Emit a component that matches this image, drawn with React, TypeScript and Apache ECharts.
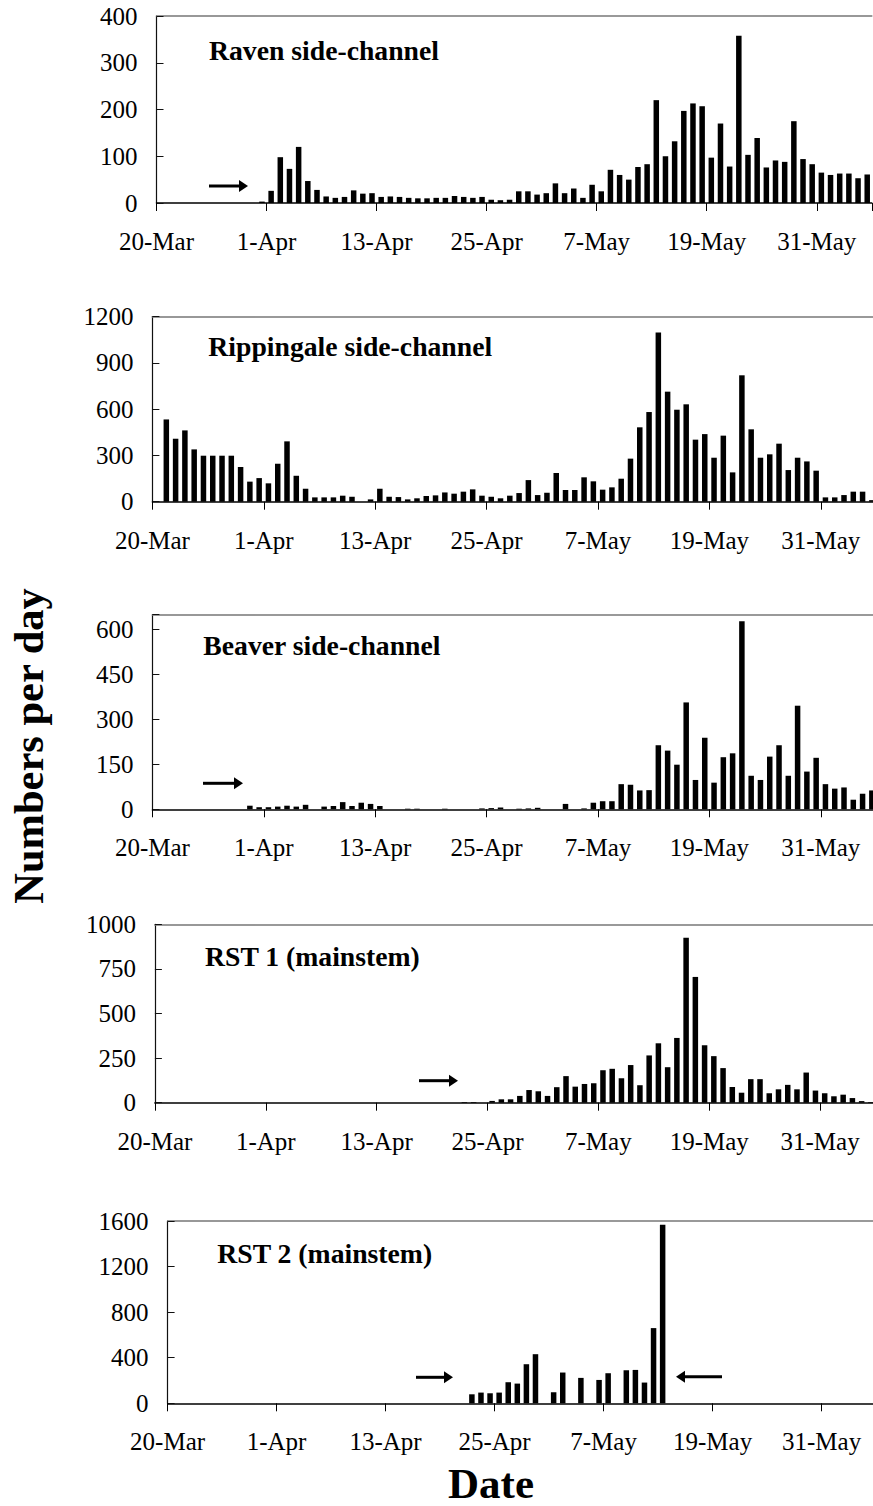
import React, { useEffect, useRef } from 'react';
import * as echarts from 'echarts';

// ---- data (day index 0 = 20-Mar, one value per day; null = no sample) ----
const dayCount = 78;
const tickStep = 12;
const tickLabels = ['20-Mar', '1-Apr', '13-Apr', '25-Apr', '7-May', '19-May', '31-May'];

const panelNames = ['Raven side-channel', 'Rippingale side-channel', 'Beaver side-channel', 'RST 1 (mainstem)', 'RST 2 (mainstem)'];
const yMax = [400, 1200, 650, 1000, 1600];
const yStep = [100, 300, 150, 250, 400];

const N = null;
const raven = [
  N, N, N, N, N, N, N, N, N, N, N, 3,
  26, 98, 73, 120, 47, 28, 14, 11, 13, 27, 20, 21,
  13, 14, 13, 11, 10, 10, 11, 11, 15, 13, 11, 13,
  7, 6, 7, 25, 25, 18, 21, 42, 21, 31, 11, 39,
  25, 71, 60, 50, 77, 83, 220, 100, 132, 197, 213, 207,
  97, 170, 78, 358, 103, 139, 76, 91, 88, 175, 94, 83,
  65, 60, 63, 63, 53, 61,
];
const rippingale = [
  N, 533, 408, 462, 339, 298, 298, 298, 298, 225, 130, 153,
  119, 246, 391, 168, 84, 28, 28, 28, 39, 32, N, 15,
  84, 32, 30, 15, 22, 37, 41, 60, 52, 65, 80, 39,
  32, 22, 39, 56, 140, 43, 58, 186, 76, 76, 158, 132,
  78, 93, 149, 279, 482, 581, 1097, 713, 596, 631, 402, 438,
  285, 428, 190, 819, 469, 285, 307, 376, 205, 285, 261, 201,
  28, 28, 43, 65, 65, 10,
];
const beaver = [
  N, N, N, N, N, N, N, N, N, N, 12, 7,
  7, 9, 12, 9, 15, N, 9, 11, 24, 11, 22, 18,
  11, N, N, 2, 2, N, N, 2, N, N, N, 3,
  4, 6, N, 2, 3, 5, N, N, 18, N, 3, 22,
  27, 27, 84, 82, 63, 64, 214, 196, 149, 357, 98, 239,
  89, 174, 187, 628, 112, 98, 176, 214, 112, 346, 126, 172,
  84, 69, 73, 32, 52, 63,
];
const rst1 = [
  N, N, N, N, N, N, N, N, N, N, N, N,
  N, N, N, N, N, N, N, N, N, N, N, N,
  N, N, N, N, N, N, N, N, N, 4, 4, N,
  10, 19, 19, 38, 71, 64, 38, 87, 149, 90, 105, 109,
  182, 190, 137, 211, 98, 265, 333, 199, 363, 924, 705, 322,
  261, 194, 88, 56, 132, 132, 53, 75, 100, 75, 169, 68,
  53, 36, 45, 26, 9, 4,
];
const rst2 = [
  N, N, N, N, N, N, N, N, N, N, N, N,
  N, N, N, N, N, N, N, N, N, N, N, N,
  N, N, N, N, N, N, N, N, N, 79, 94, 88,
  94, 185, 173, 343, 431, N, 97, 270, N, 223, N, 205,
  264, N, 290, 293, 182, 660, 1566, N, N, N, N, N,
  N, N, N, N, N, N, N, N, N, N, N, N,
  N, N, N, N, N, N,
];
const panelData = [raven, rippingale, beaver, rst1, rst2];

// ---- layout (pixels) ----
const grids = [
  { left: 156.5, width: 715.3, top: 16, height: 187 },
  { left: 152.4, width: 724.1, top: 316.5, height: 185.2 },
  { left: 152.4, width: 724.1, top: 614.7, height: 194.6 },
  { left: 154.9, width: 720.6, top: 924.3, height: 178.4 },
  { left: 167.6, width: 708.5, top: 1221, height: 182.3 },
];
const titlePos = [
  { x: 209, y: 50.8 },
  { x: 208.3, y: 346.7 },
  { x: 203.3, y: 645.2 },
  { x: 205, y: 956.2 },
  { x: 217.3, y: 1253.3 },
];
const arrows = [
  { tail: 209, tip: 248, y: 186 },
  { tail: 203, tip: 243, y: 783.3 },
  { tail: 419, tip: 458, y: 1080.7 },
  { tail: 416, tip: 453, y: 1377.3 },
  { tail: 722, tip: 676, y: 1376.7 },
];

const FONT = '"Liberation Serif", "Times New Roman", serif';

function arrowGraphic(a: { tail: number; tip: number; y: number }) {
  const dir = a.tip > a.tail ? 1 : -1;
  const headLen = 9;
  const headHalf = 6;
  const base = a.tip - dir * headLen;
  return {
    type: 'group',
    children: [
      {
        type: 'line',
        shape: { x1: a.tail, y1: a.y, x2: base + dir * 1, y2: a.y },
        style: { stroke: '#000', lineWidth: 3 },
      },
      {
        type: 'polygon',
        shape: { points: [[a.tip, a.y], [base, a.y - headHalf], [base, a.y + headHalf]] },
        style: { fill: '#000' },
      },
    ],
  };
}

export default function App() {
  const ref = useRef<HTMLDivElement>(null);
  useEffect(() => {
    if (!ref.current) return;
    const chart = echarts.init(ref.current, undefined, { renderer: 'svg' });

    const xAxes: any[] = [];
    const topAxes: any[] = [];
    const yAxes: any[] = [];
    const series: any[] = [];
    grids.forEach((g, p) => {
      xAxes.push({
        type: 'value',
        gridIndex: p,
        min: 0,
        max: dayCount,
        interval: tickStep,
        axisLine: { show: true, onZero: false, lineStyle: { color: '#000', width: 1.5 } },
        axisTick: { show: true, inside: false, length: 8, lineStyle: { color: '#000', width: 1 } },
        axisLabel: {
          show: true,
          margin: 26,
          fontFamily: FONT,
          fontSize: 25,
          color: '#000',
          formatter: (v: number) => {
            const k = Math.round(v / tickStep);
            return Math.abs(v - k * tickStep) < 1e-6 && k < tickLabels.length ? tickLabels[k] : '';
          },
        },
        splitLine: { show: false },
      });
      topAxes.push({
        type: 'value',
        gridIndex: p,
        position: 'top',
        min: 0,
        max: dayCount,
        axisLine: { show: true, onZero: false, lineStyle: { color: '#777', width: 1.5 } },
        axisTick: { show: false },
        axisLabel: { show: false },
        splitLine: { show: false },
      });
      yAxes.push({
        type: 'value',
        gridIndex: p,
        min: 0,
        max: yMax[p],
        interval: yStep[p],
        axisLine: { show: true, lineStyle: { color: '#111', width: 1.2 } },
        axisTick: { show: true, inside: true, length: 7, lineStyle: { color: '#111' } },
        axisLabel: {
          margin: 19,
          fontFamily: FONT,
          fontSize: 25,
          color: '#000',
          formatter: (v: number) => (v % yStep[p] === 0 ? String(v) : ''),
        },
        splitLine: { show: false },
      });
      series.push({
        type: 'bar',
        xAxisIndex: p,
        yAxisIndex: p,
        barWidth: 5.5,
        itemStyle: { color: '#000' },
        data: panelData[p]
          .map((v, i) => (v === null ? null : [i + 0.5, v]))
          .filter((d) => d !== null),
      });
    });

    const graphic: any[] = [];
    panelNames.forEach((name, p) => {
      graphic.push({
        type: 'text',
        x: titlePos[p].x,
        y: titlePos[p].y,
        style: {
          text: name,
          font: `bold 27.7px ${FONT}`,
          fill: '#000',
          align: 'left',
          verticalAlign: 'middle',
          textAlign: 'left',
          textVerticalAlign: 'middle',
        },
      });
    });
    arrows.forEach((a) => graphic.push(arrowGraphic(a)));
    graphic.push({
      type: 'text',
      x: 28,
      y: 746,
      rotation: Math.PI / 2,
      style: {
        text: 'Numbers per day',
        font: `bold 42.5px ${FONT}`,
        fill: '#000',
        align: 'center',
        verticalAlign: 'middle',
        textAlign: 'center',
        textVerticalAlign: 'middle',
      },
    });
    graphic.push({
      type: 'text',
      x: 491,
      y: 1483,
      style: {
        text: 'Date',
        font: `bold 43px ${FONT}`,
        fill: '#000',
        align: 'center',
        verticalAlign: 'middle',
        textAlign: 'center',
        textVerticalAlign: 'middle',
      },
    });

    chart.setOption({
      animation: false,
      backgroundColor: '#fff',
      grid: grids.map((g) => ({ left: g.left, top: g.top, width: g.width, height: g.height, containLabel: false })),
      xAxis: [...xAxes, ...topAxes],
      yAxis: yAxes,
      series,
      graphic,
    });
    return () => chart.dispose();
  }, []);

  return (
    <div style={{ position: 'fixed', left: 0, top: 0, width: 873, height: 1506, overflow: 'hidden', background: '#fff' }}>
      <div ref={ref} style={{ width: 880, height: 1506 }} />
    </div>
  );
}
